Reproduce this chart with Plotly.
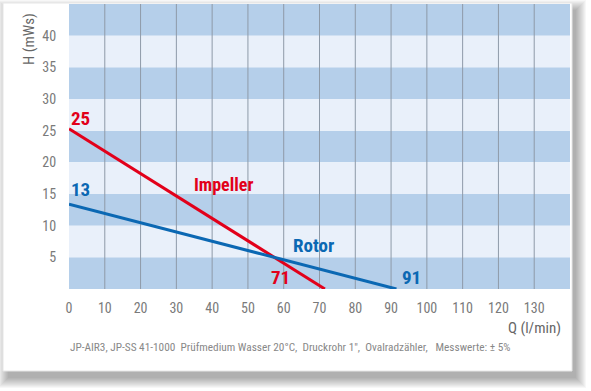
import plotly.graph_objects as go

# ---- data ----
impeller_q = [0, 71.5]
impeller_h = [25.3, 0]
rotor_q = [0, 91.5]
rotor_h = [13.4, 0]
x_ticks = [0, 10, 20, 30, 40, 50, 60, 70, 80, 90, 100, 110, 120, 130]
y_ticks = [5, 10, 15, 20, 25, 30, 35, 40]
grid_x = [10, 20, 30, 40, 50, 60, 70, 80, 90, 100, 110, 120, 130]
bands_dark = [(0, 5), (10, 15), (20, 25), (30, 35), (40, 45)]
bands_light = [(5, 10), (15, 20), (25, 30), (35, 40)]
footer = "JP-AIR3, JP-SS 41-1000\u00a0\u00a0Prüfmedium Wasser 20°C,\u00a0 Druckrohr 1\",\u00a0 Ovalradzähler,\u00a0\u00a0 Messwerte: ± 5%"

W, H = 591, 391
ML, MR, MT, MB = 69, 21, 4, 102
PW, PH = W - ML - MR, H - MT - MB

def px_x(p):
    return (p - ML) / PW

def px_y(p):
    return (H - MB - p) / PH

FONT = "Roboto Condensed, Arial Narrow, sans-serif"
RED = "#e2001a"
BLUE = "#0b68b3"
GRAY = "#7a7a7a"

shapes = []
# shadow
for k in range(11):
    shapes.append(dict(type="rect", xref="paper", yref="paper", layer="below",
                       x0=px_x(8 - k), x1=px_x(576 + k), y0=px_y(378 + k), y1=px_y(10 - k),
                       fillcolor="rgba(0,0,0,0.03)", line=dict(width=0)))
# card
shapes.append(dict(type="rect", xref="paper", yref="paper", layer="below",
                   x0=px_x(3), x1=px_x(572), y0=px_y(371), y1=px_y(3),
                   fillcolor="white", line=dict(color="#e6e6e6", width=1)))
for y0, y1 in bands_dark:
    shapes.append(dict(type="rect", xref="paper", yref="y", layer="below",
                       x0=0, x1=1, y0=y0, y1=y1, fillcolor="#b5cfea", line=dict(width=0)))
for y0, y1 in bands_light:
    shapes.append(dict(type="rect", xref="paper", yref="y", layer="below",
                       x0=0, x1=1, y0=y0, y1=y1, fillcolor="#e9f0fa", line=dict(width=0)))
for gx in grid_x:
    shapes.append(dict(type="line", xref="x", yref="paper", layer="below",
                       x0=gx, x1=gx, y0=0, y1=1, line=dict(color="#8e9aa8", width=1)))

fig = go.Figure()
fig.add_trace(go.Scatter(x=impeller_q, y=impeller_h, mode="lines",
                         line=dict(color=RED, width=3), hoverinfo="skip"))
fig.add_trace(go.Scatter(x=rotor_q, y=rotor_h, mode="lines",
                         line=dict(color=BLUE, width=3), hoverinfo="skip"))

ann = []
def lab(text, x, y, color, size=19, bold=True):
    t = f"<b>{text}</b>" if bold else text
    ann.append(dict(text=t, x=x, y=y, xref="x", yref="y", showarrow=False,
                    xanchor="center", yanchor="middle",
                    font=dict(family=FONT, size=size, color=color)))

lab("25", 3.35, 26.9, RED)
lab("13", 3.35, 15.7, BLUE)
lab("Impeller", 43.3, 16.5, RED, 18)
lab("Rotor", 68.2, 6.9, BLUE, 19)
lab("71", 59.2, 1.8, RED)
lab("91", 95.8, 1.8, BLUE)

ann.append(dict(text="H (mWs)", x=px_x(29), y=px_y(39), xref="paper", yref="paper",
                showarrow=False, textangle=-90, xanchor="center", yanchor="middle",
                font=dict(family=FONT, size=15, color="#666666")))
ann.append(dict(text="Q (l/min)", x=px_x(563), y=px_y(328), xref="paper", yref="paper",
                showarrow=False, xanchor="right", yanchor="middle",
                font=dict(family=FONT, size=15, color="#666666")))
ann.append(dict(text=footer, x=px_x(68), y=px_y(347), xref="paper", yref="paper",
                showarrow=False, xanchor="left", yanchor="middle",
                font=dict(family=FONT, size=11.3, color="#888888")))

fig.update_layout(
    width=W, height=H, margin=dict(l=ML, r=MR, t=MT, b=MB),
    paper_bgcolor="white", plot_bgcolor="rgba(0,0,0,0)",
    showlegend=False, shapes=shapes, annotations=ann,
    font=dict(family=FONT, size=14, color=GRAY),
)
fig.update_xaxes(range=[0, 140], tickvals=x_ticks, showgrid=False, zeroline=False,
                 showline=False, ticks="outside", ticklen=6, tickcolor="rgba(0,0,0,0)",
                 tickfont=dict(family=FONT, size=14, color=GRAY), fixedrange=True)
fig.update_yaxes(range=[0, 45], tickvals=y_ticks, showgrid=False, zeroline=False,
                 showline=False, ticks="outside", ticklen=9, tickcolor="rgba(0,0,0,0)",
                 tickfont=dict(family=FONT, size=14, color=GRAY), fixedrange=True)

fig.write_html("out.html", config=dict(displayModeBar=False),
               post_script="document.body.style.margin='0';document.body.style.overflow='hidden';")
